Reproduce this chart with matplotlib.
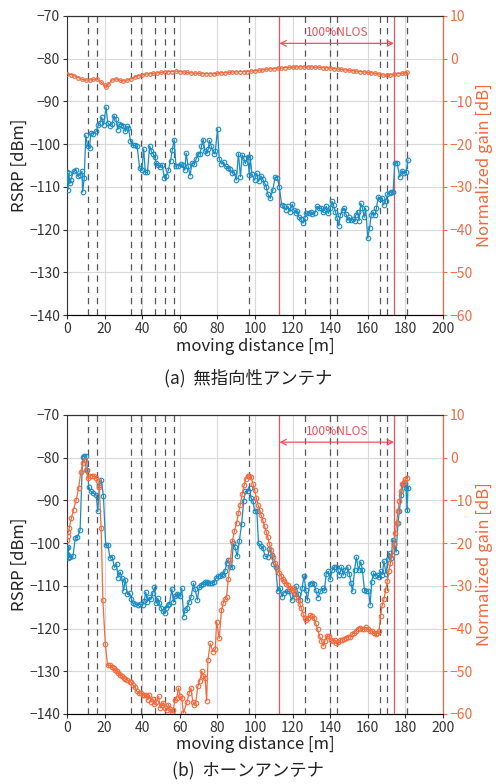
import matplotlib
matplotlib.use("Agg")
import matplotlib.pyplot as plt

plt.rcParams['font.family'] = ['Noto Sans CJK JP', 'DejaVu Sans']

BLUE = '#1a8cc4'
ORANGE = '#f26a3d'
RED = '#f0505a'

# dashed markers along the route, and the NLOS section [m]
dash_x = [11, 16, 34, 39.3, 47, 52, 57, 97, 126.8, 140, 143.7, 166.6, 170.2, 181]
nlos_x = [113, 174]

# (a) omni antenna: RSRP [dBm]
a_rsrp_x = [0, 0.3, 0.6, 1, 1.5, 2.1, 3.5, 4.9, 5.8, 7, 8, 8.3, 9.2, 10, 11, 12, 12.7,
            14, 15.5, 16.7, 17.6, 18.5, 19.5, 20.8, 21.7, 22.9, 24, 25, 26, 27, 27.8,
            28.7, 30, 31, 32, 32.7, 33.8, 35.2, 36.4, 37.3, 38.7, 39.8, 40.8, 41.7,
            42.8, 44, 44.9, 45.8, 46.7, 47.5, 48.6, 49.6, 50.7, 51.8, 52.8, 53.9, 55.1,
            56, 57, 58, 59.3, 60.4, 61.6, 62.7, 63.4, 64.4, 65.5, 66.5, 67.8, 68.7,
            69.7, 70.8, 71.5, 72.5, 73.4, 74.3, 75.2, 75.7, 76.8, 78, 78.9, 80.1, 81,
            82.2, 83.3, 84.5, 85.6, 86.6, 88, 89, 90.1, 91.2, 92.3, 93.2, 94, 94.9,
            96.1, 97, 97.5, 98.4, 99.8, 101, 101.9, 103.2, 104.2, 105.1, 106, 106.8,
            108.1, 109.5, 110.7, 111.9, 113, 114.2, 115.4, 116.5, 117.5, 118.6, 119.8,
            120.7, 121.8, 122.6, 123.3, 124.4, 125.6, 126.5, 127.4, 128.6, 129.6,
            130.5, 131.8, 133, 134, 135.3, 136.1, 137, 137.9, 139, 140, 141, 141.8,
            142.8, 143.7, 144.6, 145.4, 146.7, 147.5, 148.4, 149.3, 150.2, 151, 151.9,
            153, 153.7, 154.6, 155.4, 156.3, 157.2, 158.1, 158.9, 160, 161, 161.8,
            162.8, 163.9, 164.6, 165.6, 166.5, 167.4, 168.4, 169.5, 170.5, 171.6,
            172.6, 173.5, 174.4, 175.6, 177, 178.2, 179.5, 180.4, 181.4]
a_rsrp = [-106.5, -108.7, -110.6, -106.8, -109, -108.3, -106.3, -106.1, -107.5, -107.1,
          -106.3, -111.2, -108, -97.9, -100.5, -100.9, -97.4, -97.6, -97, -95.5, -95,
          -93.7, -95.5, -91.3, -95, -95.7, -95.3, -93.3, -94, -96.6, -95.3, -95.4,
          -95.7, -97, -95.8, -96.1, -99.3, -100.3, -100.3, -100.5, -105.6, -106.1,
          -101.1, -106.6, -106.6, -100.4, -101.7, -102.2, -103.1, -104.4, -104.8,
          -105.3, -104.8, -107.9, -107.4, -106.1, -103.9, -101.4, -98.9, -105.2, -105,
          -104.6, -104.9, -106.1, -102.1, -105, -107.4, -104.4, -104.6, -103.5, -102.2,
          -102.3, -100.5, -98.9, -101.7, -102.1, -101.1, -99.1, -100.5, -102.2, -101.7,
          -96.4, -103.5, -104.6, -104.2, -105.2, -105.6, -105.8, -106.7, -106.6, -108.4,
          -102.2, -107.6, -102.5, -103.3, -104.5, -102.9, -107.2, -103, -107, -108.4,
          -106.8, -108.7, -107.4, -108.2, -109.1, -109.9, -111.6, -112.7, -110.7,
          -107.7, -107.8, -110.1, -114.2, -114.5, -115.4, -114.5, -115.8, -114,
          -115.4, -116, -115.6, -117, -117.6, -118.5, -117.3, -116.2, -116, -115.8,
          -116.3, -116.2, -114.5, -115, -115, -115.8, -115.4, -114.5, -116.2, -115,
          -113.4, -114.2, -115.8, -117.3, -119.1, -116.6, -115.4, -115, -116.3, -117.8,
          -117.1, -117.8, -117.6, -117.9, -116.6, -115.8, -117.9, -113.8, -115, -117.1,
          -115, -122, -119.5, -116.6, -115.8, -116.6, -115, -112.3, -112.9, -112.7,
          -114.2, -113.4, -111.6, -111.3, -111.2, -111.1, -104.5, -104.3, -107.7,
          -106.2, -106.8, -106.6, -103.7]

# (a) omni antenna: normalized gain [dB]
a_gain_x = [0, 2, 4, 6, 8, 10, 12, 14, 16, 18, 20, 21, 22, 24, 26, 28, 30, 32, 34, 36,
            38, 40, 42, 44, 46, 48, 50, 52, 54, 56, 58, 60, 62, 64, 66, 68, 70, 72, 74,
            76, 78, 80, 82, 84, 86, 88, 90, 92, 94, 96, 98, 100, 102, 104, 106, 108,
            110, 112, 114, 116, 118, 120, 122, 124, 126, 128, 130, 132, 134, 136, 138,
            140, 142, 144, 146, 148, 150, 152, 154, 156, 158, 160, 162, 164, 166, 168,
            170, 172, 174, 176, 178, 180, 181]
a_gain = [-3.5, -3.7, -4.0, -4.4, -4.8, -5.0, -5.0, -4.8, -4.8, -5.4, -6.2, -6.6, -6.0,
          -5.0, -4.7, -5.0, -5.2, -5.0, -4.7, -4.3, -4.0, -3.8, -3.6, -3.5, -3.4, -3.3,
          -3.2, -3.1, -3.0, -3.0, -2.9, -3.0, -3.1, -3.2, -3.3, -3.4, -3.4, -3.5, -3.5,
          -3.5, -3.5, -3.4, -3.3, -3.3, -3.2, -3.1, -3.1, -3.0, -3.0, -3.0, -2.9, -2.8,
          -2.7, -2.6, -2.5, -2.4, -2.3, -2.2, -2.2, -2.1, -2.0, -2.0, -1.9, -1.9, -1.9,
          -1.9, -1.9, -2.0, -2.0, -2.1, -2.1, -2.2, -2.3, -2.4, -2.5, -2.6, -2.7, -2.8,
          -2.9, -3.0, -3.1, -3.2, -3.3, -3.4, -3.6, -3.8, -3.9, -3.8, -3.6, -3.5, -3.4,
          -3.3, -3.2]

# (b) horn antenna: RSRP [dBm]
b_rsrp_x = [0, 0.2, 0.4, 0.6, 0.8, 1.2, 1.8, 3.2, 4.4, 5.6, 7, 8.3, 9.2, 10.2, 10.9,
            11.6, 12.7, 14.1, 15.5, 16.4, 17.3, 18.3, 19.4, 20.6, 21.8, 22.9, 24.1,
            25.2, 26.4, 27.1, 28.3, 29.2, 30.1, 31, 32.2, 33.3, 34.2, 35, 36.3, 37.7,
            38.9, 40.2, 41.1, 41.9, 42.8, 43.7, 44.8, 45.7, 46.5, 47.4, 48.3, 49.2,
            50.1, 51, 51.9, 52.7, 53.6, 54.5, 55.8, 56.6, 57.5, 58.4, 59.3, 60.2, 61.1,
            62.1, 62.8, 63.9, 65, 66, 67.3, 68.1, 69.4, 70.3, 71.3, 72.4, 73.5, 74.3,
            75.2, 76.3, 77.3, 78.4, 79.3, 80.2, 81.2, 82.3, 83.2, 84.1, 85, 85.8, 86.7,
            87.6, 88.5, 89.4, 90.6, 91.7, 92.9, 94, 94.9, 96.1, 97.2, 97.9, 99, 99.8,
            101, 101.9, 103.2, 104.2, 105.4, 106.7, 107.7, 109, 109.8, 111.1, 112.1,
            113.3, 114.4, 115.4, 116.8, 118.1, 119.5, 120.7, 121.8, 123, 123.9, 125.1,
            126.1, 127, 127.9, 129.1, 130.4, 131.3, 132.3, 133.5, 134.8, 136.1, 137,
            137.9, 139, 140, 141.1, 142, 143.2, 144, 144.9, 146, 147, 148.1, 149.3,
            150.2, 151.1, 151.9, 153, 154, 155.1, 156.3, 157.2, 158.2, 159.3, 160.4,
            161.3, 162.1, 163, 163.9, 164.9, 166, 166.8, 167.7, 168.6, 169.8, 170.7,
            171.6, 172.5, 173.3, 174.2, 175.1, 176.1, 176.8, 177.9, 178.8, 179.6,
            180.4, 180.9, 181.4]
b_rsrp = [-101.2, -102.5, -103.4, -101, -102.8, -103.2, -103.3, -103.1, -98.9, -98.6,
          -96.9, -79.8, -79.6, -79.6, -82.9, -86.9, -87.9, -88.3, -88.7, -92.6, -86.4,
          -85.2, -89.1, -100.5, -100.5, -103.5, -103.2, -105.7, -104.9, -108.1, -106.8,
          -108.2, -111.2, -108.6, -112, -111.7, -113, -114.1, -114.3, -114.5, -114.3,
          -114.5, -113.5, -111.5, -113.7, -112.7, -113, -111.7, -110.4, -114.1, -112.9,
          -114.1, -115.2, -115.9, -116.4, -115.2, -114.6, -114.3, -110.7, -113.8,
          -112.5, -112, -112.1, -112.3, -110.6, -117.2, -115.6, -115.1, -113.7, -112.7,
          -109.4, -110.7, -113.3, -110.4, -109.8, -109.6, -109.1, -109.1, -109.4,
          -109.4, -109.4, -109.1, -108.2, -107.8, -107.7, -107.3, -107.4, -106.5,
          -104.7, -103.9, -105.5, -105.7, -100, -101, -103.1, -99.6, -95.6, -90.2,
          -87.9, -87.9, -87.2, -89.4, -90.2, -92.4, -92.4, -100.1, -100.7, -101.1,
          -103.1, -103.3, -101.3, -102.7, -104.8, -105.6, -111.3, -110.5, -112.6,
          -111.6, -111.3, -111.3, -113.4, -111.9, -110.1, -111.9, -113.4, -110.6,
          -107.6, -110.9, -113.4, -109.5, -109.3, -109.5, -110.9, -112.8, -111.3,
          -110.6, -110.9, -107.2, -106.6, -108.5, -106.2, -105.6, -105.6, -106.2,
          -107.4, -105.6, -107.5, -106.2, -105.6, -107.2, -109.3, -111.3, -106.2,
          -103.3, -106.4, -104.4, -106.4, -110.9, -111.3, -111.3, -114.5, -109.1, -107,
          -107.7, -107.4, -108, -106.6, -107.4, -104.2, -107.2, -103.8, -102.4, -103.5,
          -99.2, -100.2, -102.1, -95.3, -92.5, -88.7, -86.3, -85.9, -87.1, -92.2, -87.1]

# (b) horn antenna: normalized gain [dB]
b_gain_x = [0, 0.3, 0.6, 1.2, 2.3, 3.5, 4.9, 6.2, 7.4, 8.6, 9.4, 10.3, 11, 12, 13.3,
            14.3, 15.6, 16.5, 17.2, 18.2, 19.1, 20.4, 21.6, 22.7, 23.9, 24.8, 25.7,
            26.5, 27.4, 28.3, 29.2, 30.1, 31, 32.2, 33.3, 34.2, 35, 36.3, 37.2, 38.1,
            39.3, 40.2, 41.1, 41.9, 43, 43.9, 44.8, 45.7, 46.5, 47.4, 48.7, 49.6, 50.4,
            51.3, 52.2, 53.1, 54, 54.9, 55.8, 56.6, 57.5, 58.4, 59.3, 60.2, 61.1, 61.9,
            63.9, 65, 66, 66.9, 67.8, 68.5, 69.6, 70.6, 71.7, 72.6, 73.5, 74.3, 75,
            76.2, 77.5, 78.9, 79.6, 81, 82.2, 83.1, 84, 84.9, 85.8, 86.9, 88, 89, 90.3,
            91.2, 92.2, 93.2, 94.2, 95.1, 96.1, 97.1, 98, 99, 99.8, 100.7, 101.6,
            102.5, 103.3, 104.2, 105.1, 106, 106.8, 107.7, 108.8, 109.8, 110.9, 111.9,
            113, 113.9, 114.7, 115.6, 116.5, 117.5, 118.6, 119.5, 120.4, 121.2, 122.1,
            123, 123.9, 124.7, 125.6, 126.7, 127.4, 128.4, 129.5, 130.5, 131.4, 132.3,
            133.3, 134.4, 135.4, 136.3, 137.2, 138.2, 139.3, 140.4, 141.4, 142.5,
            143.3, 144.4, 145.4, 146.3, 147.4, 148.4, 149.5, 150.5, 151.6, 152.6,
            153.7, 154.7, 155.8, 156.8, 157.9, 158.9, 160, 161, 162.1, 163.2, 164.2,
            165.1, 166, 166.8, 167.7, 168.6, 169.5, 170.4, 171.2, 172.1, 173, 173.9,
            174.7, 175.4, 176.1, 176.8, 177.5, 178.4, 179.3, 180, 180.9]
b_gain = [-19.3, -18.4, -17.5, -16.5, -14.2, -12.2, -9.9, -7.2, -3.3, -1.2, -0.5, -3.0,
          -4.8, -4.4, -4.2, -4.4, -4.7, -5.6, -7.0, -16.5, -33.3, -43.6, -48.6, -48.6,
          -48.9, -49.3, -49.6, -50.0, -50.4, -50.8, -51.1, -51.6, -51.8, -52.0, -52.4,
          -52.6, -53.2, -53.8, -54.7, -55.1, -55.1, -55.5, -55.6, -55.6, -56.7, -55.6,
          -57.2, -56.4, -57.7, -57.1, -55.9, -58.6, -58.0, -57.4, -58.6, -59.0, -57.8,
          -58.8, -59.8, -59.0, -56.7, -56.3, -53.9, -55.9, -56.3, -59.8, -57.1, -55.1,
          -53.9, -57.1, -57.8, -57.4, -53.5, -52.2, -50.0, -51.2, -51.6, -56.9, -47.4,
          -43.5, -45.4, -44.9, -38.4, -42.3, -35.7, -34.1, -33.2, -32.6, -28.5, -24.0,
          -19.6, -17.3, -15.2, -13.0, -11.0, -8.5, -6.5, -5.0, -4.4, -4.2, -4.6, -6.2,
          -7.5, -9.4, -11.0, -12.2, -13.5, -14.7, -16.1, -17.4, -18.6, -20.2, -21.7,
          -23.3, -24.6, -26.0, -27.0, -27.7, -28.3, -28.9, -29.5, -29.9, -30.5, -30.9,
          -30.6, -31.6, -32.7, -33.4, -34.2, -35.3, -36.6, -37.5, -37.9, -37.6, -36.9,
          -37.1, -37.6, -38.7, -40.2, -41.8, -42.9, -44.1, -42.9, -41.8, -41.8, -42.6,
          -42.9, -42.8, -43.5, -43.1, -42.8, -42.6, -42.4, -42.2, -42.0, -41.9, -41.4,
          -41.0, -40.5, -40.1, -39.8, -40.0, -40.2, -39.7, -40.0, -40.5, -40.6, -41.0,
          -41.4, -41.0, -40.6, -37.1, -34.5, -33.2, -31.1, -28.9, -26.6, -24.6, -22.7,
          -20.3, -17.6, -15.3, -12.5, -10.1, -7.9, -6.3, -5.7, -5.1, -4.8]


def draw_panel(ax, rx, ry, gx, gy, caption, cap_y, gain_ms):
    ax.set_xlim(0, 200)
    ax.set_ylim(-140, -70)
    ax.set_xticks(range(0, 201, 20))
    ax.set_yticks(range(-140, -69, 10))
    ax.grid(True, color='#d9d9d9', lw=0.8)
    ax.set_axisbelow(True)
    for x in dash_x:
        ax.axvline(x, color='#555555', ls=(0, (5, 4)), lw=0.9, zorder=1)
    for x in nlos_x:
        ax.axvline(x, color=RED, lw=0.9, zorder=1)
    ax.annotate('', xy=(nlos_x[0], -76.4), xytext=(nlos_x[1], -76.4),
                arrowprops=dict(arrowstyle='<->', color=RED, lw=0.9,
                                shrinkA=0, shrinkB=0, mutation_scale=10))
    ax.text(sum(nlos_x) / 2, -73.9, '100%NLOS', color=RED, fontsize=8.6,
            ha='center', va='center')
    ax.plot(rx, ry, '-o', color=BLUE, lw=0.9, ms=3.3, mfc='none', mew=0.8, zorder=3)
    ax.set_ylabel('RSRP [dBm]', fontsize=12, color='#222222', labelpad=1)
    ax.set_xlabel('moving distance [m]', fontsize=12, color='#222222', labelpad=1)
    ax.tick_params(labelsize=10, colors='#333333', length=3, width=0.8, pad=2)
    for s in ['left', 'bottom', 'top']:
        ax.spines[s].set_color('#333333')

    ax2 = ax.twinx()
    ax2.set_ylim(-60, 10)
    ax2.set_yticks(range(-60, 11, 10))
    ax2.plot(gx, gy, '-o', color=ORANGE, lw=0.9, ms=gain_ms, mfc='none', mew=0.8)
    ax2.set_ylabel('Normalized gain [dB]', fontsize=12, color=ORANGE, labelpad=2)
    ax2.tick_params(labelsize=10, colors=ORANGE, length=3, width=0.8, pad=2)
    ax2.spines['right'].set_color(ORANGE)
    ax2.spines['left'].set_visible(False)
    ax2.spines['top'].set_color('#333333')

    fig.text(0.5, cap_y, caption, ha='center', va='center',
             fontsize=12.5, color='#222222')


fig = plt.figure(figsize=(4.96, 7.84), dpi=100)
ax_a = fig.add_axes([0.135, 0.598, 0.758, 0.3816])
ax_b = fig.add_axes([0.135, 0.0893, 0.758, 0.3816])

draw_panel(ax_a, a_rsrp_x, a_rsrp, a_gain_x, a_gain, '(a)  無指向性アンテナ', 0.518, 2.6)
draw_panel(ax_b, b_rsrp_x, b_rsrp, b_gain_x, b_gain, '(b)  ホーンアンテナ', 0.0166, 3.3)

fig.savefig('out.png', dpi=100)
